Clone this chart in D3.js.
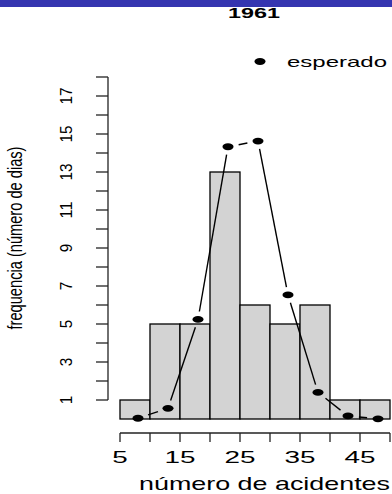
<!DOCTYPE html>
<html>
<head>
<meta charset="utf-8">
<script src="https://cdn.jsdelivr.net/npm/d3@7"></script>
<style>
body { margin: 0; background: #fff; }
text { font-family: "Liberation Sans", Arial, sans-serif; fill: #000; }
</style>
</head>
<body>
<script>
// histogram of accidents per day, 1961
var binEdges = [5, 10, 15, 20, 25, 30, 35, 40, 45, 50];
var observed = [1, 5, 5, 13, 6, 5, 6, 1, 1];
var expX = [8, 13, 18, 23, 28, 33, 38, 43, 48];
var expected = [0.04, 0.56, 5.24, 14.33, 14.63, 6.53, 1.4, 0.16, 0.01];
var xTicks = [5, 10, 15, 20, 25, 30, 35, 40, 45, 50];
var xLabels = [5, 15, 25, 35, 45];
var yTicks = d3.range(1, 19);
var yLabels = [1, 3, 5, 7, 9, 11, 13, 15, 17];

var W = 392, H = 494;
var svg = d3.select("body").append("svg")
    .attr("width", W).attr("height", H);

svg.append("rect").attr("x", 0).attr("y", 0)
    .attr("width", W).attr("height", 7)
    .style("fill", "#3535b0");

var x = d3.scaleLinear().domain([5, 50]).range([120, 390]);
var y = d3.scaleLinear().domain([0, 18]).range([419, 77]);

// bars
var bins = observed.map(function(v, i){
    return {x0: binEdges[i], x1: binEdges[i+1], n: v};
});
svg.selectAll("rect.bar").data(bins).enter()
    .append("rect").classed("bar", true)
    .attr("x", function(d){ return x(d.x0); })
    .attr("y", function(d){ return y(d.n); })
    .attr("width", function(d){ return x(d.x1) - x(d.x0); })
    .attr("height", function(d){ return y(0) - y(d.n); })
    .style("fill", "#d3d3d3")
    .style("stroke", "#000")
    .style("stroke-width", 1.3);

// x axis
var xa = svg.append("g");
xa.append("line")
    .attr("x1", x(5)).attr("x2", x(50))
    .attr("y1", 433).attr("y2", 433)
    .style("stroke", "#222").style("stroke-width", 1.3);
xa.selectAll("line.tk").data(xTicks).enter()
    .append("line").classed("tk", true)
    .attr("x1", x).attr("x2", x)
    .attr("y1", 433).attr("y2", 442)
    .style("stroke", "#222").style("stroke-width", 1.3);
xa.selectAll("text").data(xLabels).enter()
    .append("text")
    .attr("x", x).attr("y", 463)
    .attr("text-anchor", "middle")
    .attr("textLength", function(d){ return String(d).length * 15.5; })
    .attr("lengthAdjust", "spacingAndGlyphs")
    .style("font-size", "17px")
    .text(function(d){ return d; });

// y axis
var ya = svg.append("g");
ya.append("line")
    .attr("x1", 108).attr("x2", 108)
    .attr("y1", y(1)).attr("y2", y(18))
    .style("stroke", "#222").style("stroke-width", 1.3);
ya.selectAll("line.tk").data(yTicks).enter()
    .append("line").classed("tk", true)
    .attr("x1", 96).attr("x2", 108)
    .attr("y1", y).attr("y2", y)
    .style("stroke", "#222").style("stroke-width", 1.3);
ya.selectAll("text").data(yLabels).enter()
    .append("text")
    .attr("transform", function(d){ return "translate(72," + y(d) + ") rotate(-90)"; })
    .attr("text-anchor", "middle")
    .attr("textLength", function(d){ return String(d).length * 8.5; })
    .attr("lengthAdjust", "spacingAndGlyphs")
    .style("font-size", "16.5px")
    .text(function(d){ return d; });

// expected: points joined by lines with gaps (type = "b")
var pts = expX.map(function(v, i){ return [x(v), y(expected[i])]; });
var gx = 11, gy = 8;
for (var i = 0; i < pts.length - 1; i++){
    var a = pts[i], b = pts[i+1];
    var dx = b[0] - a[0], dy = b[1] - a[1];
    var L = Math.sqrt(dx*dx + dy*dy);
    var g = 1 / Math.sqrt(Math.pow(dx/L/gx, 2) + Math.pow(dy/L/gy, 2));
    if (L <= 2 * g) continue;
    svg.append("line")
        .attr("x1", a[0] + dx * g / L).attr("y1", a[1] + dy * g / L)
        .attr("x2", b[0] - dx * g / L).attr("y2", b[1] - dy * g / L)
        .style("stroke", "#000").style("stroke-width", 1.4);
}
svg.selectAll("ellipse.pt").data(pts).enter()
    .append("ellipse").classed("pt", true)
    .attr("cx", function(d){ return d[0]; })
    .attr("cy", function(d){ return d[1]; })
    .attr("rx", 5.5).attr("ry", 3.4)
    .style("fill", "#000");

// title and axis titles
svg.append("text")
    .attr("x", 254).attr("y", 18)
    .attr("text-anchor", "middle")
    .attr("textLength", 52).attr("lengthAdjust", "spacingAndGlyphs")
    .style("font-size", "14.5px").style("font-weight", "bold")
    .text("1961");

svg.append("text")
    .attr("x", 264.5).attr("y", 490)
    .attr("text-anchor", "middle")
    .attr("textLength", 251).attr("lengthAdjust", "spacingAndGlyphs")
    .style("font-size", "19px")
    .text("número de acidentes");

svg.append("text")
    .attr("transform", "translate(22,238) rotate(-90)")
    .attr("text-anchor", "middle")
    .attr("textLength", 183).attr("lengthAdjust", "spacingAndGlyphs")
    .style("font-size", "20px")
    .text("frequencia (número de dias)");

// legend
svg.append("ellipse")
    .attr("cx", 260).attr("cy", 61.5)
    .attr("rx", 5.5).attr("ry", 3.4)
    .style("fill", "#000");
svg.append("text")
    .attr("x", 287).attr("y", 67)
    .attr("textLength", 100).attr("lengthAdjust", "spacingAndGlyphs")
    .style("font-size", "14.5px")
    .text("esperado");
</script>
</body>
</html>
